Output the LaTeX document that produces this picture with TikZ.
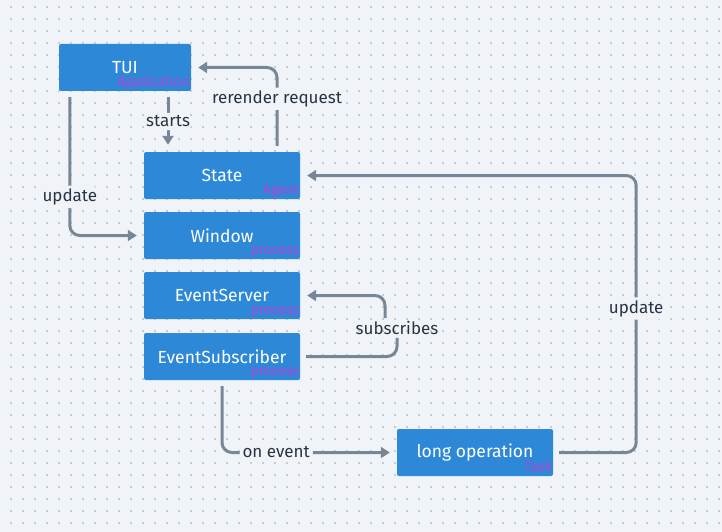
\documentclass[tikz,border=0pt]{standalone}
\usepackage{fontspec}
\setmainfont{Fira Sans}
\usepackage{xcolor}
\usetikzlibrary{arrows.meta,positioning}
\definecolor{bgpaper}{RGB}{240,244,248}
\definecolor{griddot}{RGB}{196,204,214}
\definecolor{boxblue}{RGB}{45,137,216}
\definecolor{kindpink}{RGB}{178,68,214}
\definecolor{wiregray}{RGB}{120,135,152}
\definecolor{inkdark}{RGB}{40,52,68}

\begin{document}
\begin{tikzpicture}[
    x=1pt, y=-1pt,
    box/.style={rectangle, fill=boxblue, rounded corners=2pt, inner sep=0pt,
      minimum width=156pt, minimum height=47pt, text=white,
      font=\fontsize{17.5}{20}\selectfont},
    kind/.style={inner sep=0pt, text=kindpink, font=\fontsize{14}{16}\selectfont},
    wire/.style={draw=wiregray, line width=3pt, rounded corners=10pt,
      -{Triangle[length=9pt, width=11pt]}, shorten >=7pt, shorten <=6pt},
    plainwire/.style={wire, -},
    wirelabel/.style={fill=bgpaper, text=inkdark, inner sep=3pt,
      font=\fontsize{17}{20}\selectfont}
  ]
    \useasboundingbox (0,0) rectangle (722,532);
    \fill[bgpaper] (0,0) rectangle (722,532);
    \foreach \i in {0,...,59} {
      \foreach \j in {0,...,43} {
        \fill[griddot] (10.4+12*\i, 6.4+12*\j) rectangle ++(1.3,1.3);
      }
    }
    % boxes
    \node[box, minimum width=132pt] (tui) at (125,67.5) {TUI};
    \node[box] (state) at (222,175.5) {State};
    \node[box] (window) at (222,235.5) {Window};
    \node[box] (evserver) at (222,295.5) {EventServer};
    \node[box] (evsub) at (222,356.5) {EventSubscriber};
    \node[box] (longop) at (475,452.5) {long operation};
    \node[kind, anchor=base east] (tuikind) at ([xshift=-1pt, yshift=5pt]tui.south east) {Application};
    \node[kind, anchor=base east] (statekind) at ([xshift=-1pt, yshift=5pt]state.south east) {Agent};
    \node[kind, anchor=base east] (windowkind) at ([xshift=-1pt, yshift=5pt]window.south east) {process};
    \node[kind, anchor=base east] (evserverkind) at ([xshift=-1pt, yshift=5pt]evserver.south east) {process};
    \node[kind, anchor=base east] (evsubkind) at ([xshift=-1pt, yshift=5pt]evsub.south east) {process};
    \node[kind, anchor=base east] (longopkind) at ([xshift=-1pt, yshift=5pt]longop.south east) {Task};
    % connectors
    \draw[wire] ([xshift=11pt]tui.south west) |- (window.west)
      node[wirelabel, pos=0.366] {update};
    \draw[wire] ([xshift=43pt]tui.south) -- ([xshift=-54pt]state.north)
      node[wirelabel, pos=0.5] {starts};
    \draw[wire] ([xshift=55pt]state.north) |- (tui.east)
      node[wirelabel, pos=0.315] {rerender request};
    \draw[wire] (longop.east) -- ++(83,0) |- (state.east)
      node[wirelabel, pos=0.26] {update};
    \node[text=inkdark, inner sep=3pt, font=\fontsize{17}{20}\selectfont] (sublabel) at (397,328) {subscribes};
    \draw[plainwire, shorten >=0pt] (evsub.east) -| (sublabel.south);
    \draw[wire, shorten <=0pt] ([xshift=-12pt]sublabel.north) |- (evserver.east);
    \draw[wire] (evsub.south) |- (longop.west)
      node[wirelabel, pos=0.655] {on event};
  \end{tikzpicture}
\end{document}
